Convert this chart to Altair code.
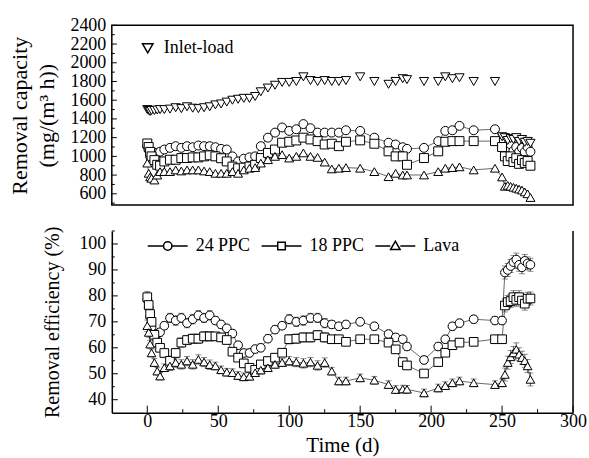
import altair as alt
import pandas as pd

# ---------------- data ----------------
days = [0, 1, 2, 3, 5, 7, 9, 12, 16, 20, 24, 28, 32, 36, 40, 44, 48, 52, 56, 60,
        64, 68, 72, 76, 80, 85, 90, 95, 100, 105, 110, 115, 120, 125, 130, 135, 140,
        150, 160, 170, 175, 180, 183, 195, 205, 210, 215, 220, 230, 245,
        250, 252, 254, 256, 258, 260, 262, 264, 266, 268, 270]

inlet_load = [1500, 1490, 1480, 1490, 1490, 1495, 1500, 1500, 1505, 1520, 1510, 1530, 1515, 1510, 1520, 1530, 1550, 1560, 1580, 1600,
              1610, 1620, 1620, 1640, 1690, 1730, 1760, 1790, 1790, 1800, 1850, 1810, 1800, 1810, 1800, 1800, 1810,
              1850, 1800, 1770, 1800, 1830, 1820, 1800, 1800, 1850, 1830, 1840, 1800, 1800,
              1210, 1200, 1170, 1190, 1180, 1200, 1160, 1180, 1150, 1160, 1140]

cap_24 = [1110, 1070, 1000, 960, 1040, 1037, 1050, 1073, 1091, 1109, 1091, 1109, 1098, 1116, 1109, 1109, 1098, 1080, 1073, 1000,
          946, 975, 990, 1000, 1109, 1200, 1254, 1309, 1272, 1290, 1345, 1301, 1254, 1254, 1254, 1254, 1279,
          1272, 1200, 1146, 1127, 1098, 1080, 1091, 1163, 1272, 1279, 1326, 1279, 1290,
          1150, 1100, 1080, 1127, 1060, 1100, 1050, 1090, 1048, 1100, 1050]

cap_18 = [1138, 1100, 1048, 1000, 960, 910, 900, 946, 964, 964, 982, 982, 989, 989, 1000, 1011, 1000, 980, 946, 891,
          873, 880, 891, 910, 982, 1037, 1073, 1146, 1156, 1170, 1200, 1181, 1163, 1127, 1135, 1109, 1156,
          1171, 1135, 1054, 1000, 1000, 910, 982, 1054, 1156, 1163, 1163, 1163, 1163,
          1100, 1000, 950, 1000, 940, 980, 920, 960, 930, 950, 900]

cap_lava = [928, 819, 780, 765, 747, 800, 837, 837, 837, 855, 844, 855, 855, 855, 844, 837, 819, 819, 819, 837,
            819, 855, 873, 880, 928, 964, 1000, 1018, 982, 1000, 1037, 1000, 989, 939, 866, 873, 880,
            873, 837, 783, 819, 801, 801, 801, 837, 873, 880, 888, 855, 873,
            780, 680, 690, 680, 670, 660, 650, 640, 620, 600, 560]

eff_24 = [78.5, 75.5, 72, 68, 65, 65.5, 66, 68.5, 71.5, 70.5, 71.5, 69.5, 71, 72.5, 71.5, 72.5, 70.5, 69, 67.5, 65.5,
          61, 58, 58, 59.5, 60, 63.5, 67, 68.5, 71, 70, 70.5, 71.5, 71.5, 69.5, 69, 68.3, 69,
          70, 68.3, 65.3, 64, 63.3, 60.5, 55.3, 60.5, 63.3, 68.3, 69.5, 71, 70.5,
          70.5, 89, 90, 91.5, 93, 94, 92, 91, 93.5, 92.5, 92]

eff_18 = [79.5, 76.5, 73, 70, 65, 62, 60, 58, 55, 58, 62, 63, 63.5, 63.5, 64.4, 64.4, 64.4, 64, 63, 58.5,
          56.2, 54, 52.3, 51.5, 53.6, 54.9, 56.2, 58.1, 63.3, 63.5, 64, 64, 64.9, 64, 63.3, 63.3, 62.3,
          63.3, 63.3, 62, 59.4, 54.5, 53.2, 50.1, 54.5, 58.1, 61, 62, 62.3, 63.3,
          63.3, 76.3, 77.6, 78, 79.5, 78.5, 79.5, 78.2, 77, 78.9, 79]

eff_lava = [68.5, 65.9, 61.4, 58, 54.3, 51, 49.1, 52.3, 53, 54.3, 53.6, 54.9, 53.6, 55.5, 54.5, 53.5, 53, 51.5, 50.6, 50.4,
            49.3, 48.8, 49, 50.4, 51.4, 52.3, 53.6, 54.3, 54.9, 54.5, 54, 54.5, 53.2, 54.3, 51, 47.2, 47.2,
            48.4, 47.5, 45.8, 43.9, 44.1, 44, 42.6, 44.5, 45.4, 46.5, 47.2, 46.5, 45.8,
            46.5, 49.7, 54.3, 56.5, 58, 59.4, 57.5, 56.2, 55, 53, 47.8]

eff_err = [2.2, 1.8, 1.5, 1.5, 1.5, 1.5, 1.5, 1.5, 1.8, 1.8, 1.8, 1.8, 1.8, 1.8, 1.8, 1.8, 1.5, 1.5, 1.5, 1.5,
           1.5, 1.5, 1.5, 1.5, 1.5, 1.5, 1.5, 1.5, 1.8, 1.8, 1.8, 1.8, 1.8, 1.8, 1.5, 1.5, 1.5,
           1.5, 1.5, 1.5, 1.5, 1.5, 1.5, 1.5, 1.5, 1.5, 1.5, 1.5, 1.5, 1.5,
           1.5, 2.5, 2.5, 2.5, 2.5, 2.5, 2.5, 2.5, 2.5, 2.5, 2.5]

series_names = ["24 PPC", "18 PPC", "Lava"]
inlet_name = "Inlet-load"

cap_y_ticks = [600, 800, 1000, 1200, 1400, 1600, 1800, 2000, 2200, 2400]
cap_y_minor = [500, 700, 900, 1100, 1300, 1500, 1700, 1900, 2100, 2300]
eff_y_ticks = [40, 50, 60, 70, 80, 90, 100]
eff_y_minor = [45, 55, 65, 75, 85, 95, 105]
x_ticks = [0, 50, 100, 150, 200, 250, 300]
x_minor = [25, 75, 125, 175, 225, 275]
eff_range = [35, 105]

# ---------------- tables ----------------
cap_rows, eff_rows = [], []
for name, cap, eff in zip(series_names, [cap_24, cap_18, cap_lava], [eff_24, eff_18, eff_lava]):
    for d, c, e, er in zip(days, cap, eff, eff_err):
        cap_rows.append({"day": d, "value": c, "series": name})
        eff_rows.append({"day": d, "value": e, "lo": e - er, "hi": e + er, "series": name})
df_cap = pd.DataFrame(cap_rows)
df_eff = pd.DataFrame(eff_rows)
df_inlet = pd.DataFrame({"day": days, "value": inlet_load, "series": [inlet_name] * len(days)})

FONT = "Liberation Serif"
W = 462
H_TOP = 180
H_BOT = 182

x_scale = alt.Scale(domain=[-25, 300], nice=False, zero=False)
top_scale = alt.Scale(domain=[480, 2400], nice=False, zero=False)
bot_scale = alt.Scale(domain=eff_range, nice=False, zero=False)

common_axis = dict(grid=False, labelFont=FONT, labelFontSize=18, labelColor="black",
                   labelOverlap=False, labelFlush=False, format="d",
                   titleFont=FONT, titleFontWeight="normal", titleColor="black")

top_y_axis = alt.Axis(title=["Removal capacity", "(mg/(m\u00b3 h))"], values=cap_y_ticks, ticks=False,
                      domain=False, labelPadding=6, titleFontSize=22, titlePadding=11,
                      titleLineHeight=27, **common_axis)
bot_y_axis = alt.Axis(title="Removal efficiency (%)", values=eff_y_ticks, ticks=False,
                      domain=True, domainColor="black", domainWidth=1.5, labelPadding=6,
                      titleFontSize=20, titlePadding=16, **common_axis)
bot_x_axis = alt.Axis(title="Time (d)", values=x_ticks, ticks=False, domain=True, domainColor="black",
                      domainWidth=1.5, labelPadding=0, titleFontSize=21, titlePadding=4, **common_axis)

X_top = alt.X("day:Q", scale=x_scale, axis=None)
Y_top = alt.Y("value:Q", scale=top_scale, axis=top_y_axis)
X_bot = alt.X("day:Q", scale=x_scale, axis=bot_x_axis)
Y_bot = alt.Y("value:Q", scale=bot_scale, axis=bot_y_axis)

shape_scale = alt.Scale(domain=series_names, range=["circle", "square", "triangle-up"])
legend_paths = [
    "M-1,0H-0.24M0.24,0H1M0.21,0A0.21,0.21,0,1,1,-0.21,0A0.21,0.21,0,1,1,0.21,0Z",
    "M-1,0H-0.21M0.21,0H1M-0.19,-0.19H0.19V0.19H-0.19Z",
    "M-1,0H-0.25M0.25,0H1M0,-0.24L0.24,0.18H-0.24Z",
]

point_style = dict(filled=False, fill="white", stroke="black", strokeWidth=1, opacity=1)

# ---------------- top panel ----------------
top_lines = alt.Chart(df_cap).mark_line(color="#444", strokeWidth=0.8).encode(
    x=X_top, y=Y_top, detail="series:N")
top_points = alt.Chart(df_cap).mark_point(size=80, **point_style).encode(
    x=X_top, y=Y_top, shape=alt.Shape("series:N", scale=shape_scale, legend=None))
top_inlet = alt.Chart(df_inlet).mark_point(size=85, **point_style).encode(
    x=X_top, y=Y_top,
    shape=alt.Shape("series:N", scale=alt.Scale(domain=[inlet_name], range=["triangle-down"]),
                    legend=alt.Legend(title=None, orient="none", legendX=27, legendY=14, padding=0,
                                      labelFont=FONT, labelFontSize=18, labelColor="black",
                                      labelOffset=7, symbolSize=110)))
top_major = alt.Chart(pd.DataFrame({"value": cap_y_ticks})).mark_rule(color="black", strokeWidth=1).encode(
    y=Y_top, x=alt.value(0), x2=alt.value(5))
top_minor = alt.Chart(pd.DataFrame({"value": cap_y_minor})).mark_rule(color="black", strokeWidth=1).encode(
    y=Y_top, x=alt.value(0), x2=alt.value(3))

top = alt.layer(top_major, top_minor, top_lines, top_points, top_inlet).resolve_scale(
    shape="independent").properties(width=W, height=H_TOP,
                                    view=alt.ViewBackground(stroke="black", strokeWidth=1.5))

# ---------------- bottom panel ----------------
bot_err = alt.Chart(df_eff).mark_rule(color="#333", strokeWidth=0.8).encode(
    x=X_bot, y=alt.Y("lo:Q", scale=bot_scale, axis=bot_y_axis), y2="hi:Q")
bot_cap_lo = alt.Chart(df_eff).mark_tick(orient="horizontal", size=6, thickness=0.8, color="#333").encode(
    x=X_bot, y=alt.Y("lo:Q", scale=bot_scale, axis=bot_y_axis))
bot_cap_hi = alt.Chart(df_eff).mark_tick(orient="horizontal", size=6, thickness=0.8, color="#333").encode(
    x=X_bot, y=alt.Y("hi:Q", scale=bot_scale, axis=bot_y_axis))
bot_lines = alt.Chart(df_eff).mark_line(color="#444", strokeWidth=0.8).encode(
    x=X_bot, y=Y_bot, detail="series:N")
bot_points = alt.Chart(df_eff).mark_point(size=75, **point_style).encode(
    x=X_bot, y=Y_bot, shape=alt.Shape("series:N", scale=shape_scale, legend=None))
bot_legend = alt.Chart(df_eff).transform_filter("false").mark_point(size=75, **point_style).encode(
    x=X_bot, y=Y_bot,
    shape=alt.Shape("series:N", scale=alt.Scale(domain=series_names, range=legend_paths),
                    legend=alt.Legend(title=None, orient="none", direction="horizontal",
                                      legendX=35, legendY=-6, padding=0, columnPadding=8,
                                      labelFont=FONT, labelFontSize=18, labelColor="black",
                                      labelOffset=7, symbolSize=1600)))
bot_right = alt.Chart(pd.DataFrame({"day": [300], "value": [eff_range[0]], "hi": [eff_range[1]]})).mark_rule(
    color="black", strokeWidth=1.5).encode(x=X_bot, y=Y_bot, y2="hi:Q")
bot_ymajor = alt.Chart(pd.DataFrame({"value": eff_y_ticks})).mark_rule(color="black", strokeWidth=1).encode(
    y=Y_bot, x=alt.value(0), x2=alt.value(6))
bot_yminor = alt.Chart(pd.DataFrame({"value": eff_y_minor})).mark_rule(color="black", strokeWidth=1).encode(
    y=Y_bot, x=alt.value(0), x2=alt.value(3))
bot_xmajor = alt.Chart(pd.DataFrame({"day": x_ticks})).mark_rule(color="black", strokeWidth=1).encode(
    x=X_bot, y=alt.value(H_BOT), y2=alt.value(H_BOT - 7))
bot_xminor = alt.Chart(pd.DataFrame({"day": x_minor})).mark_rule(color="black", strokeWidth=1).encode(
    x=X_bot, y=alt.value(H_BOT), y2=alt.value(H_BOT - 3.5))

bottom = alt.layer(bot_ymajor, bot_yminor, bot_xmajor, bot_xminor, bot_right,
                   bot_err, bot_cap_lo, bot_cap_hi, bot_lines, bot_points, bot_legend).resolve_scale(
    shape="independent").properties(width=W, height=H_BOT, view=alt.ViewBackground(stroke=None))

chart = alt.vconcat(top, bottom, spacing=26, bounds="flush").properties(
    padding={"left": 8, "top": 15, "right": 2, "bottom": 1},
    background="white",
).configure_view(stroke=None)

chart.save("out.html", embed_options={"renderer": "svg", "actions": False})
